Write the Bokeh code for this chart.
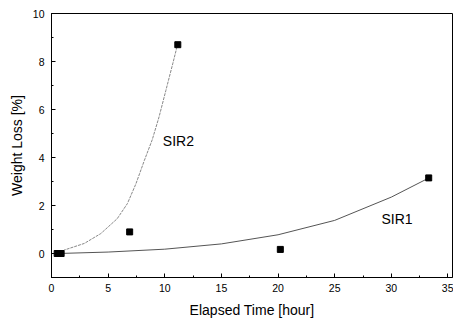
from bokeh.plotting import figure
from bokeh.models import SingleIntervalTicker, Range1d, Label
from bokeh.embed import file_html
from bokeh.resources import INLINE

# measured points
sir1_x = [0.5, 20.2, 33.3]
sir1_y = [0.0, 0.17, 3.15]
sir2_x = [0.85, 6.9, 11.15]
sir2_y = [0.0, 0.9, 8.7]

# fitted curves
sir1_cx = [0.6, 5.0, 10.0, 15.0, 20.0, 25.0, 30.0, 33.2]
sir1_cy = [0.0, 0.06, 0.18, 0.4, 0.78, 1.38, 2.35, 3.12]
sir2_cx = [0.75, 1.1, 2.9, 4.35, 5.8, 6.7, 7.45, 8.2, 8.9, 9.5, 10.1, 10.7, 11.1]
sir2_cy = [0.0, 0.14, 0.42, 0.83, 1.45, 2.08, 2.9, 3.88, 4.75, 5.7, 6.8, 7.9, 8.65]

FONT = "Liberation Sans"

p = figure(width=453, height=322, output_backend="svg", toolbar_location=None,
           x_range=Range1d(0, 35.4), y_range=Range1d(-1, 10),
           min_border_left=51, min_border_right=1, min_border_top=13, min_border_bottom=45)
p.xgrid.visible = False
p.ygrid.visible = False
p.outline_line_color = "black"
p.outline_line_width = 1

p.line(sir1_cx, sir1_cy, line_color="#555555", line_width=1)
p.line(sir2_cx, sir2_cy, line_color="#888888", line_width=1, line_dash="3 1")
p.scatter(sir1_x, sir1_y, marker="square", size=6, color="black")
p.scatter(sir2_x, sir2_y, marker="square", size=6, color="black")

p.add_layout(Label(x=11.2, y=4.7, text="SIR2", text_font=FONT, text_font_size="14px",
                   text_color="black", text_align="center", text_baseline="middle"))
p.add_layout(Label(x=30.5, y=1.42, text="SIR1", text_font=FONT, text_font_size="14px",
                   text_color="black", text_align="center", text_baseline="middle"))

p.xaxis.ticker = SingleIntervalTicker(interval=5, num_minor_ticks=2)
p.yaxis.ticker = SingleIntervalTicker(interval=2, num_minor_ticks=2)
for ax in (p.xaxis[0], p.yaxis[0]):
    ax.major_tick_in = 4
    ax.major_tick_out = 0
    ax.minor_tick_in = 2
    ax.minor_tick_out = 0
    ax.axis_line_color = "black"
    ax.major_tick_line_color = "black"
    ax.minor_tick_line_color = "black"
    ax.major_label_text_font = FONT
    ax.major_label_text_font_size = "10.5px"
    ax.major_label_text_color = "black"
    ax.axis_label_text_font = FONT
    ax.axis_label_text_font_size = "14px"
    ax.axis_label_text_font_style = "normal"
    ax.axis_label_text_color = "black"
p.xaxis.axis_label = "Elapsed Time [hour]"
p.yaxis.axis_label = "Weight Loss [%]"
p.xaxis.major_label_standoff = 6
p.yaxis.major_label_standoff = 7
p.xaxis.axis_label_standoff = 7
p.yaxis.axis_label_standoff = 5

open("out.html", "w").write(file_html(p, INLINE))
